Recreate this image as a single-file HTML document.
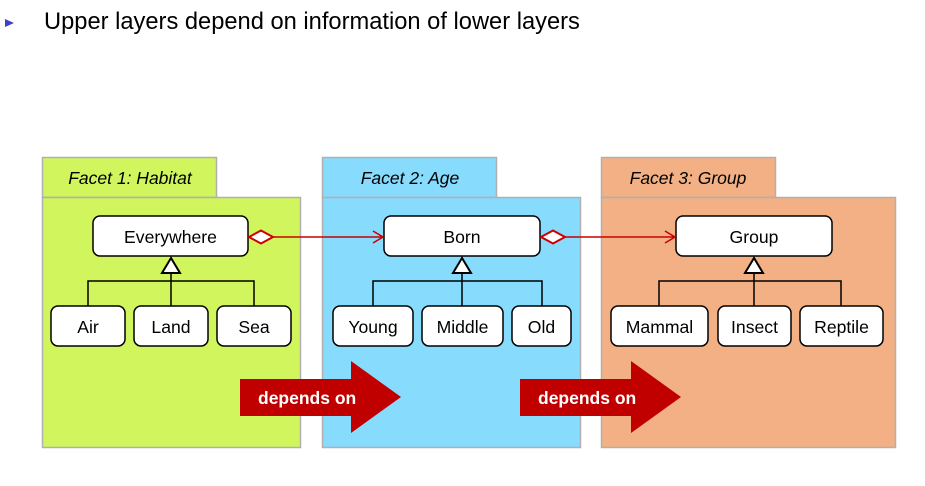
<!DOCTYPE html>
<html><head><meta charset="utf-8"><style>
html,body{margin:0;padding:0;background:#fff;width:925px;height:486px;overflow:hidden}
svg{display:block}
text{font-family:"Liberation Sans",Arial,sans-serif}
</style></head><body>
<svg width="925" height="486" viewBox="0 0 925 486" xmlns="http://www.w3.org/2000/svg">
<polygon points="5,19 14,23 5,27" fill="#3f3fcf"/>
<text x="44" y="29" font-size="23.7" fill="#000">Upper layers depend on information of lower layers</text>

<g stroke="#b0b0b0" stroke-width="1.5">
<rect x="42.5" y="157.5" width="174" height="40" fill="#d1f55d"/>
<rect x="42.5" y="197.5" width="258" height="250" fill="#d1f55d"/>
<rect x="322.5" y="157.5" width="174" height="40" fill="#87dbfd"/>
<rect x="322.5" y="197.5" width="258" height="250" fill="#87dbfd"/>
<rect x="601.5" y="157.5" width="174" height="40" fill="#f2b084"/>
<rect x="601.5" y="197.5" width="294" height="250" fill="#f2b084"/>
</g>
<g font-size="17.5" font-style="italic" text-anchor="middle" fill="#000">
<text x="130" y="184">Facet 1: Habitat</text>
<text x="410" y="184">Facet 2: Age</text>
<text x="688" y="184">Facet 3: Group</text>
</g>

<g stroke="#000" stroke-width="1.5" fill="none">
<path d="M88,306V281H254V306M171,306V273"/>
<path d="M373,306V281H542V306M462,306V273"/>
<path d="M659,306V281H841V306M754,306V273"/>
</g>
<g stroke="#000" stroke-width="2" fill="#fff">
<polygon points="171,258 162,273 180,273"/>
<polygon points="462,258 453,273 471,273"/>
<polygon points="754,258 745,273 763,273"/>
</g>

<g stroke="#000" stroke-width="1.5" fill="#fff">
<rect x="93" y="216" width="155" height="40" rx="7"/>
<rect x="51" y="306" width="74" height="40" rx="7"/>
<rect x="134" y="306" width="74" height="40" rx="7"/>
<rect x="217" y="306" width="74" height="40" rx="7"/>
<rect x="384" y="216" width="156" height="40" rx="7"/>
<rect x="333" y="306" width="80" height="40" rx="7"/>
<rect x="422" y="306" width="81" height="40" rx="7"/>
<rect x="512" y="306" width="59" height="40" rx="7"/>
<rect x="676" y="216" width="156" height="40" rx="7"/>
<rect x="611" y="306" width="97" height="40" rx="7"/>
<rect x="718" y="306" width="73" height="40" rx="7"/>
<rect x="800" y="306" width="83" height="40" rx="7"/>
</g>
<g font-size="17.6" text-anchor="middle" fill="#000">
<text x="170.5" y="243">Everywhere</text>
<text x="88" y="333">Air</text>
<text x="171" y="333">Land</text>
<text x="254" y="333">Sea</text>
<text x="462" y="243">Born</text>
<text x="373" y="333">Young</text>
<text x="462.5" y="333">Middle</text>
<text x="541.5" y="333">Old</text>
<text x="754" y="243">Group</text>
<text x="659.5" y="333">Mammal</text>
<text x="754.5" y="333">Insect</text>
<text x="841.5" y="333">Reptile</text>
</g>

<g stroke="#cc0000" stroke-width="1.5" fill="none">
<polygon points="249,237 261,230.5 273,237 261,243.5" fill="#fff" stroke-width="2"/>
<path d="M273,237H383M373,231L383,237L373,243"/>
<polygon points="541,237 553,230.5 565,237 553,243.5" fill="#fff" stroke-width="2"/>
<path d="M565,237H675M665,231L675,237L665,243"/>
</g>

<g fill="#c00000">
<polygon points="240,379 351,379 351,361 401,397 351,433 351,416 240,416"/>
<polygon points="520,379 631,379 631,361 681,397 631,433 631,416 520,416"/>
</g>
<g font-size="17.5" font-weight="bold" fill="#fff">
<text x="258" y="404">depends on</text>
<text x="538" y="404">depends on</text>
</g>
</svg>
</body></html>
